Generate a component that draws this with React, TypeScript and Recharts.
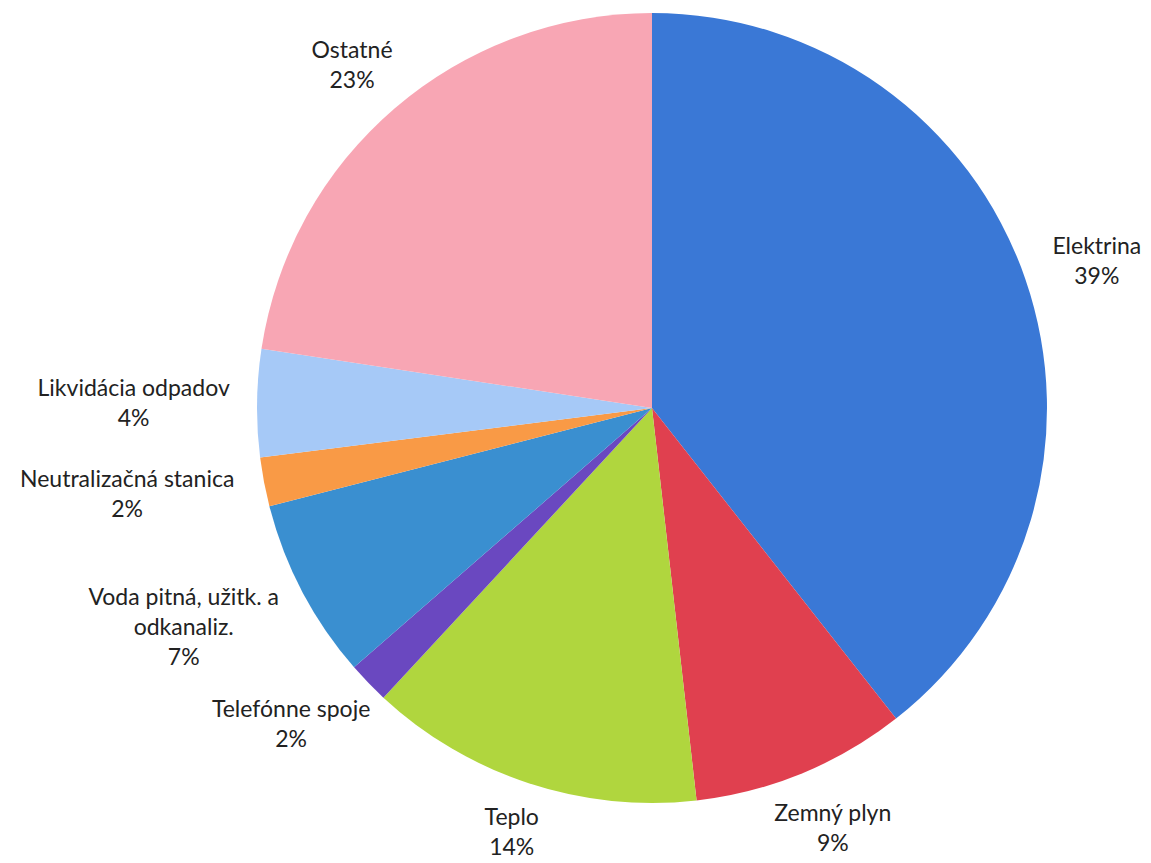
import React from "react";
import { PieChart, Pie, Cell } from "recharts";

const categories = [
  "Elektrina",
  "Zemný plyn",
  "Teplo",
  "Telefónne spoje",
  "Voda pitná, užitk. a odkanaliz.",
  "Neutralizačná stanica",
  "Likvidácia odpadov",
  "Ostatné",
];
const values = [39.4, 8.8, 13.7, 1.7, 7.4, 2.0, 4.4, 22.6];
const colors = [
  "#3a78d6",
  "#e0404f",
  "#b0d63e",
  "#6a48c0",
  "#3a8fd0",
  "#f99a46",
  "#a6c9f7",
  "#f8a6b4",
];

const data = categories.map((name, i) => ({ name, value: values[i] }));

const W = 1151;
const H = 863;
const RAD = Math.PI / 180;
const LINE_H = 30;
const CHAR_W = 10.6;
const PAD = 28;

function wrap(text: string, max: number): string[] {
  if (text.length <= max) return [text];
  const words = text.split(" ");
  const lines: string[] = [];
  let cur = "";
  for (const w of words) {
    const cand = cur ? cur + " " + w : w;
    if (cand.length > max && cur) {
      lines.push(cur);
      cur = w;
    } else {
      cur = cand;
    }
  }
  if (cur) lines.push(cur);
  return lines;
}

const renderLabel = (props: any) => {
  const { cx, cy, midAngle, outerRadius, percent, name } = props;
  const ux = Math.cos(-midAngle * RAD);
  const uy = Math.sin(-midAngle * RAD);
  const lines = [...wrap(name, 22), `${Math.round(percent * 100)}%`];
  const maxLen = Math.max(...lines.map((l) => l.length));
  const halfW = (maxLen * CHAR_W) / 2;
  const halfH = (lines.length * LINE_H) / 2;
  const bx = cx + (outerRadius + PAD) * ux + halfW * ux;
  let by = cy + (outerRadius + PAD) * uy + halfH * uy;
  by = Math.min(by, H - 2 - halfH);
  by = Math.max(by, 2 + halfH);
  const top = by - halfH + LINE_H / 2;
  return (
    <text
      x={bx}
      y={top}
      textAnchor="middle"
      fill="#222"
      fontFamily="Lato, 'Noto Sans', sans-serif"
      fontSize={23}
    >
      {lines.map((l, i) => (
        <tspan key={i} x={bx} y={top + i * LINE_H} dominantBaseline="central">
          {l}
        </tspan>
      ))}
    </text>
  );
};

export default function App() {
  return (
    <div style={{ position: "absolute", left: 0, top: 0, width: W, height: H, background: "#fff" }}>
      <PieChart width={W} height={H} margin={{ top: 0, right: 0, bottom: 0, left: 0 }}>
        <Pie
          data={data}
          dataKey="value"
          nameKey="name"
          cx={652}
          cy={408}
          outerRadius={395}
          startAngle={90}
          endAngle={-270}
          stroke="none"
          label={renderLabel}
          labelLine={false}
          isAnimationActive={false}
        >
          {data.map((d, i) => (
            <Cell key={d.name} fill={colors[i]} />
          ))}
        </Pie>
      </PieChart>
    </div>
  );
}
